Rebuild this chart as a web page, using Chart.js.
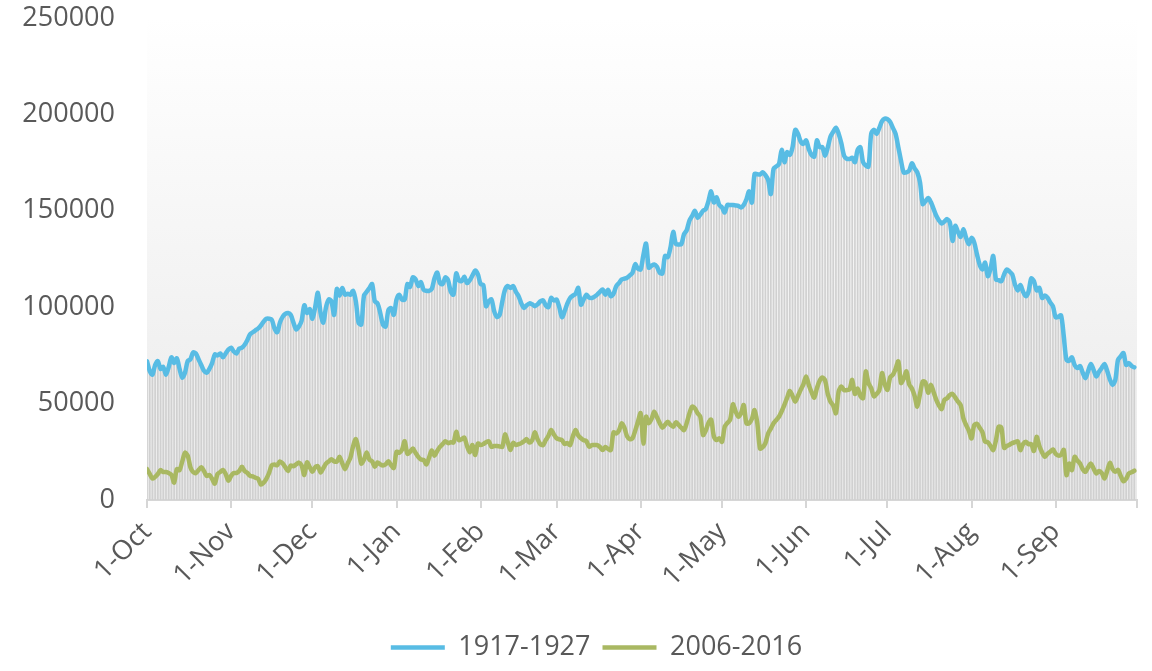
<!DOCTYPE html>
<html><head><meta charset="utf-8">
<script src="https://cdn.jsdelivr.net/npm/chart.js@4/dist/chart.umd.min.js"></script>
<style>html,body{margin:0;padding:0;background:#fff;}#wrap{width:1152px;height:671px;}</style>
</head><body><div id="wrap"><canvas id="c" width="1152" height="671"></canvas></div>
<script>
const monthNames = ['Oct','Nov','Dec','Jan','Feb','Mar','Apr','May','Jun','Jul','Aug','Sep'];
const monthStartDays = [0,31,61,92,123,151,182,212,243,273,304,335,365];
const seriesNames = ['1917-1927','2006-2016'];
const yTicks = [0,50000,100000,150000,200000,250000];

// Daily values, 1-Oct .. 30-Sep (365 days)
const flow1917 = [
 72000,67000,65000,70000,72000,68000,69000,65000,69000,74000,71000,73500,68000,63500,66000,72000,73000,76500,76000,73000,70000,67000,66000,68000,71000,75500,75000,76000,74000,76000,78000,
 79000,77000,76000,78500,79000,80500,83000,86000,87000,88000,89000,90500,92500,94000,94000,93500,89000,87000,92000,95000,96500,97000,96000,92000,88500,90000,93000,101000,97000,99000,
 94000,100000,107500,97000,92000,100000,104000,103000,96000,109500,106000,110000,106500,107000,106500,108500,103000,92000,91000,106000,108000,110000,112000,103000,102000,97000,91000,90000,98500,99500,96000,
 104000,106500,104000,104000,112000,110500,115500,114500,111000,113000,109000,108500,108500,109500,115000,118000,112500,112000,115500,114000,108000,106500,117500,114000,113500,115800,112500,114000,116500,119000,117000,
 112000,111500,100500,103000,104000,98000,95000,96000,103000,109000,111000,110000,111000,108000,105700,102000,99600,101000,102000,101500,100500,101500,103000,103600,101000,100000,104800,103500,
 104000,100000,94800,98000,102000,104800,106000,107000,110000,101300,104000,106500,105000,104800,105500,106500,108000,109200,106500,109000,105700,107000,110900,112500,114400,114800,115300,116500,117900,122300,120000,
 119600,127000,133000,120500,121500,122200,121000,118000,117400,126600,126000,131000,139100,132700,132500,132700,137900,140000,145000,147400,150000,146500,148000,150000,150900,155000,160100,154300,157000,153000,
 151700,149100,153100,153000,153000,152800,152600,151700,153000,156000,160100,154300,169100,169000,168800,170000,168500,166000,158700,171700,173000,174300,181600,175200,180400,179000,183000,192000,190000,186000,184700,
 186500,182000,179000,178100,186500,183000,183000,178600,183000,188500,191000,193100,190000,185000,178600,177000,176900,177500,175200,181600,183000,175200,173500,172900,189900,192000,189900,193000,196500,197800,
 197500,196100,193000,189900,183000,176000,169900,169900,170800,174600,172000,169900,164700,153500,155000,156600,154500,151000,147400,145000,143400,144500,145700,144000,134400,142200,139000,136500,140400,136000,132700,
 136000,133500,127400,122000,119600,123100,116100,120000,126600,114400,114000,113500,117000,119600,118500,117000,111800,108700,111500,108000,105700,108000,114900,113500,108700,110000,104800,106100,105000,102500,100500,
 94800,95000,95800,85000,72700,72200,74000,70000,68400,69500,66000,63200,67000,70500,67500,64100,66500,68500,70500,67000,62500,59700,62300,72700,74500,76200,70100,71000,69500,68800
];
const flow2006 = [
 16000,13500,11100,12000,13500,15500,14500,14500,14000,13000,9000,16000,15500,20000,24500,23000,17000,14500,14000,15500,17000,15000,12500,13000,11000,8500,13500,14500,15600,13500,10000,
 12500,14000,14000,15000,17200,15000,14000,12500,12300,11500,11000,8000,9000,11000,14000,18000,18400,18000,20000,19000,17000,15000,17900,17500,18500,19400,18000,13000,19500,17000,
 14600,17000,17500,14200,16500,18900,20000,21200,20000,20000,22400,19000,16000,19000,22000,28000,31600,26000,18900,21000,24700,21000,20000,17200,19500,18500,17900,18500,20100,18000,16600,
 25000,24500,26000,30500,24000,25000,26700,24500,22400,21000,20800,18400,22000,25700,23000,25500,27600,29000,30500,29500,30000,29800,35400,31000,31500,32300,28000,24700,28500,23300,29300,
 28500,29000,30000,30500,27600,28000,28000,27800,27600,34000,30000,25900,29600,28500,29000,29500,30500,31600,29800,31000,35100,31500,29000,28500,31000,33300,36300,34000,
 32000,31500,31000,29100,29500,28500,33000,36300,33500,32000,31000,30500,27600,28500,28500,28500,27500,25900,27500,26500,25900,35100,34500,36000,39800,37500,33000,31600,32000,36000,40600,
 45000,29300,43200,39800,42000,45800,43000,40000,37500,39000,40600,39000,38000,40300,39000,37500,36300,40000,45000,48400,47500,45000,43200,33700,36000,40000,41700,33000,31100,32000,
 30200,38000,40000,41700,49600,46000,43200,45000,49200,39800,39800,42000,46700,40000,26700,27400,29500,34500,37000,39800,41500,43200,46000,49300,53000,56600,54000,51000,54000,57100,60000,
 64100,59700,56000,53100,58000,61800,63500,62000,55000,51000,49000,45000,56300,58900,57000,57000,57300,62300,55000,57800,54000,52800,66700,60700,58000,53800,55000,57000,65800,60000,
 57100,63700,65000,68000,71900,60700,63000,66700,60000,57800,54000,48400,55000,61500,61000,55600,59800,56000,51900,49000,47200,52000,52800,54500,55000,53100,51000,49200,42300,38900,36000,
 31900,38900,39500,37500,35200,30200,30000,28000,25900,31000,38000,37500,27000,28000,28700,29500,30000,30400,25900,29000,30200,29000,29000,25400,32800,28000,24700,22400,24000,25000,26200,
 24000,23000,23500,26000,12900,18900,15500,22400,20500,18900,16000,14600,17000,18900,16300,13800,15000,14000,11100,15000,19300,16000,14600,15600,12500,9700,11000,13800,14400,15200
];

const BLUE = '#58bce4';
const OLIVE = '#a9b862';
const TXT = '#595959';
const FONT = "'Open Sans', sans-serif";

const bgPlugin = {
  id: 'bg',
  beforeDraw(chart) {
    const {ctx, chartArea: a} = chart;
    const g = ctx.createLinearGradient(0, a.top, 0, a.bottom);
    g.addColorStop(0, '#ffffff');
    g.addColorStop(1, '#eaeaea');
    ctx.save();
    ctx.fillStyle = g;
    ctx.fillRect(a.left, a.top, a.right - a.left, a.bottom - a.top);
    ctx.restore();
    // nudge legend to the right, as in the original layout
    if (chart.legend) { chart.legend.left += 28; chart.legend.right += 28; }
  }
};

const toPts = arr => arr.map((v, i) => ({x: i, y: v}));

new Chart(document.getElementById('c'), {
  data: {
    datasets: [
      {type: 'line', label: seriesNames[0], data: toPts(flow1917), borderColor: BLUE, backgroundColor: BLUE,
       borderWidth: 4.5, pointRadius: 0, tension: 0.3, borderCapStyle: 'round', borderJoinStyle: 'round', order: 1},
      {type: 'line', label: seriesNames[1], data: toPts(flow2006), borderColor: OLIVE, backgroundColor: OLIVE,
       borderWidth: 4.5, pointRadius: 0, tension: 0.3, borderCapStyle: 'round', borderJoinStyle: 'round', order: 2},
      {type: 'bar', label: 'drop', data: toPts(flow1917), backgroundColor: '#d0d0d0', barThickness: 1, order: 5}
    ]
  },
  options: {
    responsive: false,
    animation: false,
    layout: {padding: {top: 18, right: 15, left: 0, bottom: 0}},
    plugins: {
      tooltip: {enabled: false},
      legend: {
        position: 'bottom',
        labels: {
          filter: item => item.datasetIndex < 2,
          usePointStyle: true, pointStyle: 'line', pointStyleWidth: 54,
          font: {family: FONT, size: 27}, color: TXT, padding: 12
        }
      }
    },
    scales: {
      x: {
        type: 'linear', min: 0, max: 365, offset: false,
        afterBuildTicks: s => { s.ticks = monthStartDays.map(v => ({value: v})); },
        afterFit: s => { s.height = 122; s.paddingLeft = 0; s.paddingRight = 0; s.paddingTop = 0; s.paddingBottom = 0; },
        ticks: {
          autoSkip: false, maxRotation: 45, minRotation: 45, padding: 8,
          font: {family: FONT, size: 27}, color: TXT,
          callback: v => { const k = monthStartDays.indexOf(v); return (k >= 0 && k < 12) ? '1-' + monthNames[k] : ''; }
        },
        grid: {display: true, offset: false, drawOnChartArea: false, drawTicks: true, tickLength: 8, color: '#d6d6d6', lineWidth: 2},
        border: {display: true, color: '#d6d6d6', width: 2}
      },
      y: {
        min: 0, max: 250000,
        afterBuildTicks: s => { s.ticks = yTicks.map(v => ({value: v})); },
        afterFit: s => { s.width = 147; s.paddingTop = 0; s.paddingBottom = 0; s.paddingLeft = 0; s.paddingRight = 0; },
        ticks: {padding: 32, font: {family: FONT, size: 27}, color: TXT, callback: v => String(v)},
        grid: {display: false, drawTicks: false},
        border: {display: false}
      }
    }
  },
  plugins: [bgPlugin]
});
</script>
</body></html>
